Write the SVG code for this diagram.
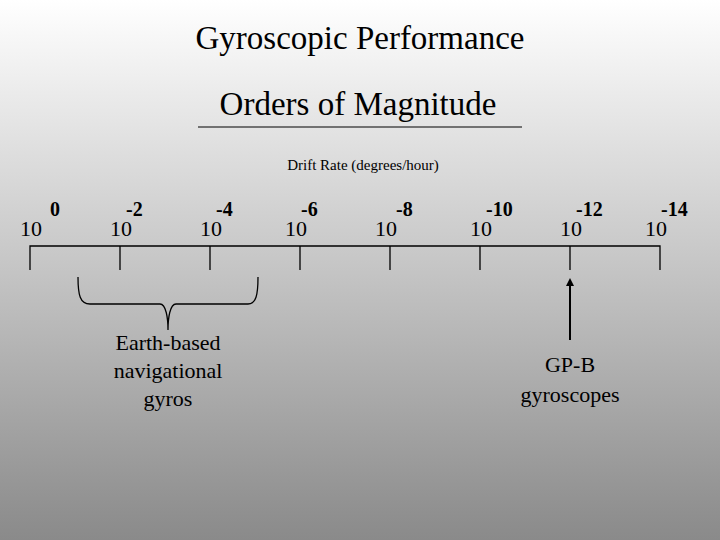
<svg xmlns="http://www.w3.org/2000/svg" width="720" height="540" viewBox="0 0 720 540" font-family="'Liberation Serif', 'DejaVu Serif', serif">
<defs>
<linearGradient id="bg" x1="0" y1="0" x2="0" y2="1">
<stop offset="0" stop-color="#ffffff"/>
<stop offset="1" stop-color="#8a8a8a"/>
</linearGradient>
<marker id="ah" markerWidth="8" markerHeight="8" refX="4" refY="4" orient="auto" markerUnits="userSpaceOnUse">
<path d="M0,0 L8,4 L0,8 z" fill="#000"/>
</marker>
<style>
text{font-family:'Liberation Serif','DejaVu Serif',serif;fill:#000}
.t{font-size:33px;text-anchor:middle}
.b{font-size:22px}
.e{font-size:20px;font-weight:bold}
.l{font-size:22px;text-anchor:middle}
.ln{stroke:#000;stroke-width:1.3;fill:none}
</style>
</defs>
<rect width="720" height="540" fill="url(#bg)"/>
<g id="title">
<text class="t" x="360" y="49">Gyroscopic Performance</text>
<text class="t" x="358" y="115">Orders of Magnitude</text>
<line x1="198" y1="127" x2="522" y2="127" stroke="#000" stroke-width="1"/>
<text x="363" y="170" font-size="15" text-anchor="middle">Drift Rate (degrees/hour)</text>
</g>
<g id="axis">
<path class="ln" d="M30,270 V246 H660 V270 M120,246 V270 M210,246 V270 M300,246 V270 M390,246 V270 M480,246 V270 M570,246 V270"/>
<text class="b" x="20" y="236">10</text><text class="e" x="50" y="216">0</text>
<text class="b" x="110" y="236">10</text><text class="e" x="126" y="216">-2</text>
<text class="b" x="200" y="236">10</text><text class="e" x="216" y="216">-4</text>
<text class="b" x="285" y="236">10</text><text class="e" x="301" y="216">-6</text>
<text class="b" x="375" y="236">10</text><text class="e" x="396" y="216">-8</text>
<text class="b" x="470" y="236">10</text><text class="e" x="486" y="216">-10</text>
<text class="b" x="560" y="236">10</text><text class="e" x="576" y="216">-12</text>
<text class="b" x="645" y="236">10</text><text class="e" x="661" y="216">-14</text>
</g>
<g id="connectors">
<path class="ln" d="M78,277 C78,295 80,304 90,304 H160 C166,304 168,318 168,330 C168,318 170,304 176,304 H248 C256,304 258,295 258,277"/>
<line x1="570" y1="340" x2="570" y2="282" stroke="#000" stroke-width="2" marker-end="url(#ah)"/>
</g>
<g id="earth">
<text class="l" x="168" y="350">Earth-based</text>
<text class="l" x="168" y="378">navigational</text>
<text class="l" x="168" y="406">gyros</text>
</g>
<g id="gpb">
<text class="l" x="570" y="372">GP-B</text>
<text class="l" x="570" y="402">gyroscopes</text>
</g>
</svg>
